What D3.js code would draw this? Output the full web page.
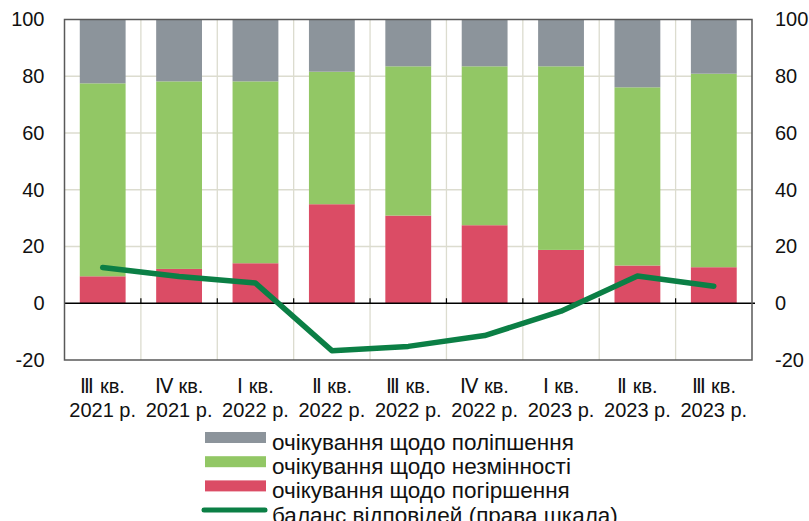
<!DOCTYPE html>
<html>
<head>
<meta charset="utf-8">
<script src="https://cdn.jsdelivr.net/npm/d3@7"></script>
<style>
  body { margin: 0; background: #fff; }
  text { font-family: "Liberation Sans", Arial, sans-serif; fill: #111; }
</style>
</head>
<body>
<div id="chart"></div>
<script>
var quarters = ["Ⅲ кв.", "Ⅳ кв.", "Ⅰ кв.", "Ⅱ кв.", "Ⅲ кв.", "Ⅳ кв.", "Ⅰ кв.", "Ⅱ кв.", "Ⅲ кв."];
var years = ["2021 р.", "2021 р.", "2022 р.", "2022 р.", "2022 р.", "2022 р.", "2023 р.", "2023 р.", "2023 р."];
var worse = [9.5, 12.1, 14.1, 34.9, 30.9, 27.5, 18.8, 13.3, 12.7];
var same = [68.0, 66.1, 64.1, 46.7, 52.6, 56.0, 64.7, 62.8, 68.2];
var better = [22.5, 21.8, 21.8, 18.4, 16.5, 16.5, 16.5, 23.9, 19.1];
var balance = [12.6, 9.4, 7.1, -16.7, -15.2, -11.4, -2.8, 9.6, 6.0];
var ticks = [-20, 0, 20, 40, 60, 80, 100];

var legendItems = [
  {label: "очікування щодо поліпшення", color: "#8c949b", type: "rect"},
  {label: "очікування щодо незмінності", color: "#92c765", type: "rect"},
  {label: "очікування щодо погіршення", color: "#db4c65", type: "rect"},
  {label: "баланс відповідей (права шкала)", color: "#0b7f45", type: "line"}
];

var width = 809, height = 521;
var plotLeft = 64.5, plotRight = 752, plotTop = 19.5, plotBottom = 360;

var rows = quarters.map(function(q, i) {
  return {id: i, worse: worse[i], same: same[i], better: better[i], balance: balance[i]};
});

var svg = d3.select("#chart").append("svg")
    .attr("width", width)
    .attr("height", height);

var x = d3.scaleBand()
    .domain(rows.map(function(d) { return d.id; }))
    .range([plotLeft, plotRight])
    .paddingInner(0.4)
    .paddingOuter(0.2);

var y = d3.scaleLinear().domain([-20, 100]).range([plotBottom, plotTop]);
var y2 = d3.scaleLinear().domain([-20, 100]).range([plotBottom, plotTop]);

var step = x.step();
var bounds = d3.range(1, quarters.length).map(function(i) { return plotLeft + i * step; });

// grid
svg.append("g").selectAll("line")
  .data([20, 40, 60, 80])
  .enter().append("line")
    .attr("x1", plotLeft).attr("x2", plotRight)
    .attr("y1", function(d) { return y(d); })
    .attr("y2", function(d) { return y(d); })
    .attr("stroke", "#dcdccf").attr("stroke-width", 1.3);

svg.append("g").selectAll("line")
  .data(bounds)
  .enter().append("line")
    .attr("x1", function(d) { return d; })
    .attr("x2", function(d) { return d; })
    .attr("y1", plotTop).attr("y2", plotBottom)
    .attr("stroke", "#dcdccf").attr("stroke-width", 1.3);

// stacked bars
var colors = {worse: "#db4c65", same: "#92c765", better: "#8c949b"};
var series = d3.stack().keys(["worse", "same", "better"])(rows);

svg.append("g").selectAll("g")
  .data(series)
  .enter().append("g")
    .attr("fill", function(d) { return colors[d.key]; })
  .selectAll("rect")
  .data(function(d) { return d; })
  .enter().append("rect")
    .attr("x", function(d) { return x(d.data.id); })
    .attr("width", x.bandwidth())
    .attr("y", function(d) { return y(d[1]); })
    .attr("height", function(d) { return y(d[0]) - y(d[1]); });

// zero line + ticks
svg.append("line")
    .attr("x1", plotLeft).attr("x2", plotRight + 3)
    .attr("y1", y(0)).attr("y2", y(0))
    .attr("stroke", "#000").attr("stroke-width", 1.3);

svg.append("g").selectAll("line")
  .data(bounds)
  .enter().append("line")
    .attr("x1", function(d) { return d; })
    .attr("x2", function(d) { return d; })
    .attr("y1", y(0) - 5).attr("y2", y(0))
    .attr("stroke", "#000").attr("stroke-width", 1.2);

// frame
svg.append("rect")
    .attr("x", plotLeft).attr("y", plotTop)
    .attr("width", plotRight - plotLeft).attr("height", plotBottom - plotTop)
    .attr("fill", "none")
    .attr("stroke", "#595959").attr("stroke-width", 1.5);

// balance line (right scale)
var line = d3.line()
    .x(function(d) { return x(d.id) + x.bandwidth() / 2; })
    .y(function(d) { return y2(d.balance); });

svg.append("path")
    .datum(rows)
    .attr("d", line)
    .attr("fill", "none")
    .attr("stroke", "#0b7f45")
    .attr("stroke-width", 5.5)
    .attr("stroke-linecap", "round")
    .attr("stroke-linejoin", "round");

// axes
var fmt = function(d) { return String(d); };

var leftAxis = svg.append("g")
    .attr("transform", "translate(" + plotLeft + ",0)")
    .call(d3.axisLeft(y).tickValues(ticks).tickFormat(fmt).tickSize(0).tickPadding(20));
leftAxis.select(".domain").remove();
leftAxis.selectAll("text")
    .attr("font-size", 20)
    .attr("fill", "#111");
leftAxis.attr("font-family", null).attr("font-size", null);

var rightAxis = svg.append("g")
    .attr("transform", "translate(" + plotRight + ",0)")
    .call(d3.axisRight(y2).tickValues(ticks).tickFormat(fmt).tickSize(0).tickPadding(23));
rightAxis.select(".domain").remove();
rightAxis.selectAll("text")
    .attr("font-size", 20)
    .attr("fill", "#111");
rightAxis.attr("font-family", null).attr("font-size", null);

// category labels
var cats = svg.append("g").selectAll("text")
  .data(rows)
  .enter().append("text")
    .attr("text-anchor", "middle")
    .attr("font-size", 20);
cats.append("tspan")
    .attr("x", function(d) { return x(d.id) + x.bandwidth() / 2; })
    .attr("y", 393)
    .text(function(d) { return quarters[d.id]; });
cats.append("tspan")
    .attr("x", function(d) { return x(d.id) + x.bandwidth() / 2; })
    .attr("y", 417)
    .text(function(d) { return years[d.id]; });

// legend
var legend = svg.append("g").selectAll("g")
  .data(legendItems)
  .enter().append("g")
    .attr("transform", function(d, i) { return "translate(0," + (437.5 + i * 24.2) + ")"; });

legend.filter(function(d) { return d.type == "rect"; })
  .append("rect")
    .attr("x", 205).attr("y", -5.5)
    .attr("width", 61).attr("height", 11)
    .attr("fill", function(d) { return d.color; });

legend.filter(function(d) { return d.type == "line"; })
  .append("line")
    .attr("x1", 204).attr("x2", 265)
    .attr("y1", 0).attr("y2", 0)
    .attr("stroke", function(d) { return d.color; })
    .attr("stroke-width", 5)
    .attr("stroke-linecap", "round");

legend.append("text")
    .attr("x", 272)
    .attr("y", 12.5)
    .attr("font-size", 22.5)
    .text(function(d) { return d.label; });
</script>
</body>
</html>
